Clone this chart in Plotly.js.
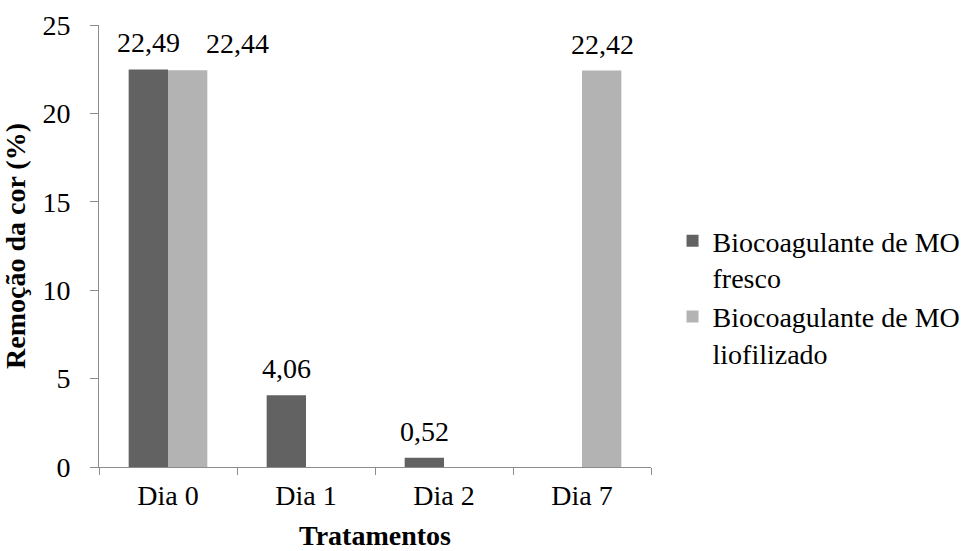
<!DOCTYPE html>
<html>
<head>
<meta charset="utf-8">
<script src="https://cdn.plot.ly/plotly-3.0.1.min.js"></script>
<style>
  html, body { margin: 0; padding: 0; background: #ffffff; }
  #chart { width: 962px; height: 551px; }
</style>
</head>
<body>
<div id="chart"></div>
<script>
// Colour removal (%) per treatment day, fresh vs freeze-dried MO biocoagulant
const categories = ['Dia 0', 'Dia 1', 'Dia 2', 'Dia 7'];
const fresco = [22.49, 4.06, 0.52, null];
const liofilizado = [22.44, null, null, 22.42];
const seriesNames = ['Biocoagulante de MO<br>fresco', 'Biocoagulante de MO<br>liofilizado'];
const yTickValues = [0, 5, 10, 15, 20, 25];

const FONT = 'Liberation Serif';
const FS = 28;
const AXIS = '#8c8c8c';
const COLORS = ['#626262', '#b3b3b3'];

const series = [fresco, liofilizado];

const traces = series.map((vals, s) => ({
  type: 'bar',
  name: seriesNames[s],
  legendgroup: 'g' + s,
  x: categories,
  y: vals,
  marker: { color: COLORS[s], line: { width: 0 } },
  cliponaxis: false,
  hoverinfo: 'x+y'
}));

// Value labels above each bar, offset to the bar's slot in its group
const halfBar = 20;
function fmt(v) { return v.toFixed(2).replace('.', ','); }
const annotations = [];
series.forEach((vals, s) => {
  vals.forEach((v, i) => {
    if (v === null) return;
    let xs = s === 0 ? -halfBar : halfBar;
    // the two Dia 0 labels would overlap, so the second one is nudged right
    if (s === 1 && i === 0 && fresco[0] !== null) xs = 69;
    annotations.push({
      x: categories[i], y: v, xref: 'x', yref: 'y',
      text: fmt(v), showarrow: false,
      xanchor: 'center', yanchor: 'bottom',
      xshift: xs, yshift: 9,
      font: { family: FONT, size: FS, color: '#000' }
    });
  });
});

const layout = {
  width: 962, height: 551,
  margin: { l: 99, r: 311, t: 25, b: 84, autoexpand: false },
  paper_bgcolor: '#ffffff', plot_bgcolor: '#ffffff',
  font: { family: FONT, size: FS, color: '#000' },
  barmode: 'group',
  bargap: 0.43,
  bargroupgap: 0,
  showlegend: true,
  legend: {
    x: 1.039, xanchor: 'left', y: 0.568, yanchor: 'top',
    font: { family: FONT, size: FS, color: '#000' },
    traceorder: 'grouped', tracegroupgap: 0,
    valign: 'top', bgcolor: 'rgba(0,0,0,0)'
  },
  xaxis: {
    type: 'category',
    showline: true, linecolor: AXIS, linewidth: 1,
    ticks: 'outside', tickson: 'boundaries', ticklen: 7, tickcolor: AXIS,
    ticklabelstandoff: 3,
    showgrid: false, zeroline: false,
    tickfont: { family: FONT, size: FS, color: '#000' },
    title: { text: '<b>Tratamentos</b>', font: { family: FONT, size: FS, color: '#000' }, standoff: 16 }
  },
  yaxis: {
    range: [0, 25], tickvals: yTickValues, ticktext: yTickValues.map(String),
    showline: true, linecolor: AXIS, linewidth: 1,
    ticks: 'outside', ticklen: 8, tickcolor: AXIS,
    ticklabelstandoff: 14,
    showgrid: false, zeroline: false,
    tickfont: { family: FONT, size: FS, color: '#000' },
    title: { text: '<b>Remoção da cor (%)</b>', font: { family: FONT, size: FS, color: '#000' }, standoff: 8 }
  },
  annotations: annotations
};

Plotly.newPlot('chart', traces, layout, { displayModeBar: false, staticPlot: true });
</script>
</body>
</html>
